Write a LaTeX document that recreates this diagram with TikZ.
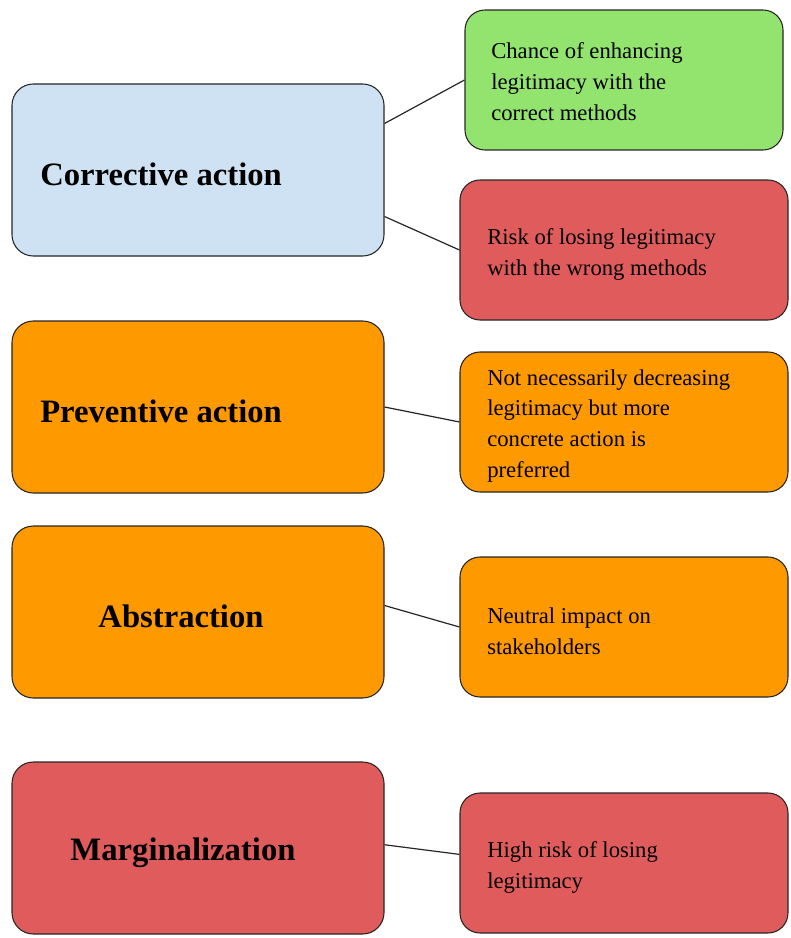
\documentclass[tikz,border=0pt]{standalone}
\usepackage{fontspec}
\setmainfont{Liberation Serif}
\usepackage{xcolor}
\usetikzlibrary{positioning,calc}
\definecolor{Edge}{HTML}{262626}
\definecolor{Sky}{HTML}{CFE2F3}
\definecolor{Leaf}{HTML}{93E46F}
\definecolor{Rose}{HTML}{E05C5C}
\definecolor{Amber}{HTML}{FF9900}
\tikzset{
  actbox/.style={draw=Edge, line width=0.8pt, rounded corners=16pt, minimum width=279pt, minimum height=129pt, inner sep=0pt},
  effbox/.style={draw=Edge, line width=0.8pt, rounded corners=15pt, minimum width=246pt, minimum height=105pt, inner sep=0pt},
  acttext/.style={font=\fontsize{24.5}{28}\selectfont\bfseries, inner sep=0pt},
  efftext/.style={font=\fontsize{17}{23.2}\selectfont, align=left, inner sep=0pt},
  link/.style={draw=Edge, line width=0.9pt}
}

\begin{document}
\begin{tikzpicture}[x=0.75pt, y=-0.75pt]
  \useasboundingbox (0,0) rectangle (790,938);
  \node[actbox, fill=Sky] (corr) at (198,170) {};
  \node[acttext, anchor=west] (corrT) at (40,174) {Corrective action};
  \node[actbox, fill=Amber] (prev) at (198,407) {};
  \node[acttext, anchor=west] (prevT) at (40,411) {Preventive action};
  \node[actbox, fill=Amber] (abst) at (198,612) {};
  \node[acttext] (abstT) at (181,616) {Abstraction};
  \node[actbox, fill=Rose] (marg) at (198,848) {};
  \node[acttext] (margT) at (183,853) {Marginalization};

  \node[effbox, fill=Leaf, minimum width=238.5pt] (chance) at (624,80) {};
  \node[efftext, anchor=west] (chanceT) at (491,82) {Chance of enhancing\\legitimacy with the\\correct methods};
  \node[effbox, fill=Rose] (risk) at (624,250) {};
  \node[efftext, anchor=west] (riskT) at (487,254) {Risk of losing legitimacy\\with the wrong methods};
  \node[effbox, fill=Amber] (notdec) at (624,422) {};
  \node[efftext, anchor=west] (notdecT) at (487,426) {Not necessarily decreasing\\legitimacy but more\\concrete action is\\preferred};
  \node[effbox, fill=Amber] (neutral) at (624,627) {};
  \node[efftext, anchor=west] (neutralT) at (487,631) {Neutral impact on\\stakeholders};
  \node[effbox, fill=Rose] (high) at (624,863) {};
  \node[efftext, anchor=west] (highT) at (487,867) {High risk of losing\\legitimacy};

  \draw[link] (corr.14.5) -- (chance.west);
  \draw[link] (corr.-14.5) -- (risk.west);
  \draw[link] (prev.east) -- (notdec.west);
  \draw[link] (abst.2.6) -- (neutral.west);
  \draw[link] (marg.1.8) -- (high.177.9);
\end{tikzpicture}
\end{document}
